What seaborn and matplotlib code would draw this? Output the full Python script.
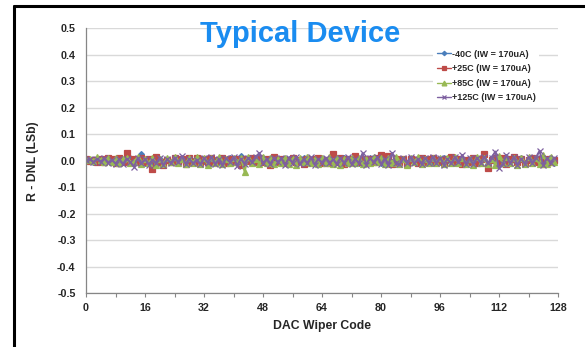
import matplotlib
matplotlib.use("Agg")
import matplotlib.pyplot as plt
from matplotlib.lines import Line2D
from matplotlib.ticker import MultipleLocator
import numpy as np
import pandas as pd
import seaborn as sns

# DAC wiper codes 0..127
codes = list(range(128))

# R-DNL (LSb), one list per temperature
dnl_m40 = [
    0.004, 0.002, -0.003, 0.006, 0.001, -0.005, 0.008, 0.003, -0.004, 0.007, -0.006, 0.002, 0.009, -0.008, 0.004, 0.026,
    -0.010, 0.005, -0.006, 0.003, 0.008, -0.007, 0.002, -0.004, 0.010, -0.003, 0.006, -0.009, 0.004, 0.001, -0.005, 0.007,
    -0.002, 0.009, -0.007, 0.004, -0.003, 0.006, -0.008, 0.011, -0.004, 0.002, 0.017, -0.006, 0.005, -0.002, 0.008, -0.007,
    0.012, -0.005, 0.003, -0.009, 0.006, 0.001, -0.004, 0.008, -0.006, 0.004, -0.002, 0.009, -0.007, 0.003, 0.005, -0.008,
    0.006, -0.003, 0.002, -0.010, 0.007, -0.004, 0.011, -0.006, 0.003, 0.005, -0.008, 0.004, -0.002, 0.009, -0.005, 0.006,
    -0.009, 0.004, 0.013, -0.006, 0.002, -0.004, 0.008, -0.010, 0.005, 0.001, -0.006, 0.009, -0.003, 0.004, -0.008, 0.007,
    -0.005, 0.010, -0.002, 0.006, -0.009, 0.003, 0.008, -0.004, 0.005, -0.007, 0.004, 0.012, 0.026, -0.011, 0.009, -0.006,
    0.004, -0.012, 0.014, -0.005, 0.008, -0.003, 0.011, -0.007, 0.005, 0.009, -0.004, 0.006, 0.016, -0.008, 0.003, -0.009,
]
dnl_p25 = [
    0.005, 0.001, 0.004, -0.003, 0.008, -0.004, 0.012, 0.006, -0.007, 0.010, -0.005, 0.030, -0.004, 0.008, -0.006, 0.010,
    -0.003, 0.005, -0.032, 0.015, -0.005, -0.014, 0.004, -0.006, 0.009, -0.002, 0.006, -0.012, 0.010, -0.004, 0.012, -0.008,
    0.007, -0.004, 0.010, -0.006, 0.003, 0.012, -0.009, 0.006, -0.003, 0.008, -0.014, 0.005, -0.002, 0.009, -0.006, 0.011,
    -0.004, 0.006, -0.016, 0.013, -0.003, 0.007, -0.010, 0.004, 0.009, -0.005, 0.003, -0.012, 0.008, -0.002, 0.006, 0.011,
    -0.007, 0.004, -0.009, 0.025, -0.003, 0.010, -0.012, 0.005, -0.004, 0.017, -0.006, 0.008, -0.010, 0.006, -0.003, 0.009,
    0.022, 0.007, 0.017, -0.011, 0.005, -0.004, 0.008, -0.013, 0.006, 0.002, -0.008, 0.010, -0.004, 0.007, 0.011, -0.006,
    0.004, -0.009, 0.006, 0.013, -0.005, 0.008, -0.012, 0.004, -0.003, 0.011, -0.007, 0.005, 0.025, -0.026, 0.003, 0.010,
    -0.006, 0.009, -0.011, 0.005, 0.013, -0.004, 0.007, -0.009, 0.004, 0.010, -0.003, 0.006, -0.012, 0.008, -0.005, 0.004,
]
dnl_p85 = [
    0.003, 0.006, -0.002, 0.014, 0.004, -0.006, 0.009, -0.004, 0.011, -0.008, 0.005, 0.012, -0.010, -0.003, 0.015, -0.012,
    0.008, -0.009, 0.012, -0.015, 0.006, -0.011, 0.009, -0.006, 0.013, -0.010, 0.005, -0.013, 0.010, -0.007, 0.014, -0.012,
    0.009, -0.014, 0.011, -0.008, 0.015, -0.013, 0.007, -0.010, 0.012, -0.006, 0.010, -0.041, 0.013, -0.009, 0.008, -0.012,
    0.014, -0.007, 0.010, -0.013, 0.006, -0.009, 0.012, -0.011, 0.008, -0.014, 0.011, -0.006, 0.013, -0.010, 0.007, -0.012,
    0.010, -0.008, 0.013, -0.012, 0.009, -0.014, 0.006, -0.009, 0.012, -0.007, 0.011, -0.013, 0.008, -0.010, 0.014, -0.006,
    0.009, -0.012, 0.011, -0.008, 0.013, -0.011, 0.007, -0.014, 0.010, -0.006, 0.016, -0.012, 0.008, -0.009, 0.012, -0.007,
    0.011, -0.013, 0.009, -0.010, 0.014, -0.008, 0.012, -0.011, 0.007, -0.014, 0.015, -0.009, 0.010, -0.012, 0.008, -0.015,
    0.018, -0.010, 0.013, -0.007, 0.011, -0.016, 0.009, -0.012, 0.014, -0.008, 0.010, -0.013, 0.022, -0.011, 0.016, -0.004,
]
dnl_p125 = [
    0.002, 0.005, -0.004, 0.007, -0.003, 0.010, -0.007, 0.004, -0.011, 0.006, -0.013, 0.008, -0.005, -0.022, 0.009, -0.010,
    0.006, -0.014, 0.003, -0.008, 0.011, -0.015, 0.005, -0.009, 0.012, -0.006, 0.018, -0.012, 0.007, -0.010, 0.004, -0.013,
    0.010, -0.007, 0.014, -0.011, 0.006, -0.016, 0.009, -0.005, 0.013, -0.018, 0.008, -0.012, 0.011, -0.006, 0.015, 0.029,
    -0.010, 0.007, -0.013, 0.012, -0.006, 0.009, -0.015, 0.010, -0.008, 0.014, -0.011, 0.006, -0.009, 0.013, -0.014, 0.008,
    -0.007, 0.012, -0.010, 0.006, -0.013, 0.011, -0.008, 0.015, -0.012, 0.007, -0.009, 0.029, -0.014, 0.010, -0.006, 0.013,
    -0.011, 0.008, -0.015, 0.030, -0.010, -0.013, 0.009, -0.007, 0.014, -0.010, 0.006, -0.012, 0.011, -0.008, 0.015, -0.009,
    0.012, -0.014, 0.007, -0.010, 0.013, -0.006, 0.022, -0.011, 0.009, -0.013, 0.011, -0.007, 0.014, -0.010, 0.012, 0.035,
    -0.028, -0.012, 0.021, -0.009, 0.013, -0.015, 0.008, -0.011, 0.014, -0.008, 0.012, 0.038, -0.016, 0.010, -0.007, 0.012,
]

series_labels = ["-40C (IW = 170uA)", "+25C (IW = 170uA)", "+85C (IW = 170uA)", "+125C (IW = 170uA)"]
series_values = [dnl_m40, dnl_p25, dnl_p85, dnl_p125]

y_ticks = [-0.5, -0.4, -0.3, -0.2, -0.1, 0.0, 0.1, 0.2, 0.3, 0.4, 0.5]
x_ticks = [0, 16, 32, 48, 64, 80, 96, 112, 128]

colors = ["#4A7EBB", "#BE4B48", "#98B954", "#7D60A0"]
markers = ["D", "s", "^", "x"]
msizes = [3.0, 4.4, 4.6, 4.2]

sns.set_style("white")
plt.rcParams['font.family'] = ['Liberation Sans', 'DejaVu Sans']
plt.rcParams['font.weight'] = 'bold'

fig = plt.figure(figsize=(5.85, 3.47), dpi=100)
ax = fig.add_axes([86 / 585, 1 - 293.3 / 347, 472 / 585, 265 / 347])

for lab, vals, c, m, ms in zip(series_labels, series_values, colors, markers, msizes):
    sns.lineplot(x=codes, y=vals, ax=ax, color=c, marker=m, markersize=ms,
                 markeredgecolor=c, markeredgewidth=0.9, linewidth=1.4, label=lab)

ax.set_xlim(0, 128)
ax.set_ylim(-0.5, 0.5)
ax.set_xticks(x_ticks)
ax.xaxis.set_minor_locator(MultipleLocator(8))
ax.set_yticks(y_ticks)
ax.set_yticklabels([f"{v:.1f}" for v in y_ticks])
ax.grid(axis='y', color='#D9D9D9', linewidth=1.0)
ax.set_axisbelow(True)

for s in ['top', 'right']:
    ax.spines[s].set_visible(False)
for s in ['left', 'bottom']:
    ax.spines[s].set_color('#868686')
    ax.spines[s].set_linewidth(0.9)

ax.tick_params(axis='y', which='major', length=3.5, color='#D9D9D9', width=1.0, pad=4, labelsize=7.7)
ax.tick_params(axis='x', which='both', length=3, color='#868686', width=0.8, pad=4, labelsize=7.7, bottom=True)

ax.set_xlabel("DAC Wiper Code", fontsize=8.8, fontweight='bold')
ax.set_ylabel("R - DNL (LSb)", fontsize=8.8, fontweight='bold')
ax.xaxis.set_label_coords(0.5, -0.1)
ax.yaxis.set_label_coords(-0.1, 0.5)

ax.text(0.453, 0.949, "Typical Device", transform=ax.transAxes, ha='center', va='baseline',
        fontsize=21, fontweight='bold', color='#1A8CF0')

leg = ax.legend(loc='upper right', bbox_to_anchor=((539 - 86) / 472, (293.3 - 46) / 265),
                frameon=True, facecolor='white', edgecolor='none', framealpha=1.0,
                fontsize=6.5, handlelength=1.5, handletextpad=0.1, labelspacing=0.62,
                borderpad=0.4, borderaxespad=0, markerscale=0.75)
for t in leg.get_texts():
    t.set_fontweight('bold')
for h in leg.get_lines():
    h.set_linewidth(1.0)

# black frame on left and top like the source image
fig.add_artist(Line2D([13.5 / 585, 13.5 / 585], [0, 1 - 6 / 347], color='black', linewidth=2.2))
fig.add_artist(Line2D([13.5 / 585, 1], [1 - 6 / 347, 1 - 6 / 347], color='black', linewidth=2.2))

fig.savefig("out.png", dpi=100)
